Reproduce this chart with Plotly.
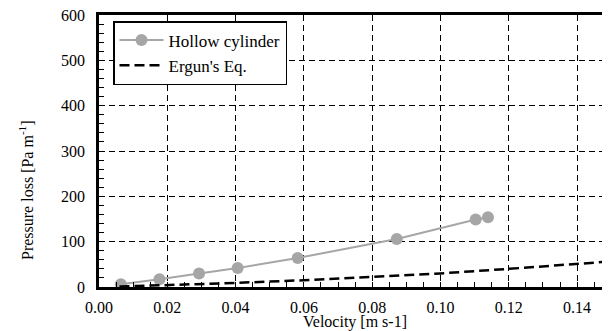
import plotly.graph_objects as go

# Hollow cylinder measurements
hc_velocity = [0.0064, 0.0177, 0.0293, 0.0406, 0.0582, 0.0872, 0.1103, 0.1139]
hc_pressure = [6, 17, 30, 42, 64, 106, 149, 154]

# Ergun's equation curve
ergun_velocity = [0.006, 0.02, 0.04, 0.06, 0.08, 0.10, 0.12, 0.14, 0.16]
ergun_pressure = [1, 4, 9, 15, 22, 30, 40, 51, 62]

x_ticks = [0.00, 0.02, 0.04, 0.06, 0.08, 0.10, 0.12, 0.14]
x_tick_labels = ["0.00", "0.02", "0.04", "0.06", "0.08", "0.10", "0.12", "0.14"]
y_ticks = [0, 100, 200, 300, 400, 500, 600]

FONT = '"Liberation Serif", "Times New Roman", Times, serif'

# page body has an 8px default margin; compensate so plot sits where reference is
OFF = 8
W, H = 610 - OFF, 331 - OFF
L, T, B = 99 - OFF, 15 - OFF, 331 - 287
plot_w = W - L
plot_h = H - T - B

fig = go.Figure()
fig.add_trace(go.Scatter(
    x=hc_velocity, y=hc_pressure, mode="lines+markers", name="Hollow cylinder",
    line=dict(color="#A6A6A6", width=2),
    marker=dict(color="#A6A6A6", size=12),
))
fig.add_trace(go.Scatter(
    x=ergun_velocity, y=ergun_pressure, mode="lines", name="Ergun's Eq.",
    line=dict(color="black", width=2.5, dash="10px,5px"),
))

fig.update_layout(
    width=W, height=H,
    margin=dict(l=L, r=0, t=T, b=B, autoexpand=False),
    paper_bgcolor="white", plot_bgcolor="white",
    font=dict(family=FONT, size=15, color="black"),
    showlegend=True,
    legend=dict(
        x=(113 - 99) / plot_w, y=(287 - 21) / plot_h, xanchor="left", yanchor="top",
        bordercolor="black", borderwidth=1.5, bgcolor="white",
        font=dict(family=FONT, size=17, color="black"),
        tracegroupgap=0, itemwidth=44,
    ),
)
fig.update_xaxes(
    range=[0, 0.02 * (610 - 99) / 68.3],
    tickvals=x_ticks, ticktext=x_tick_labels,
    showgrid=True, gridcolor="black", gridwidth=1.2, griddash="6px,4px",
    showline=True, linecolor="black", linewidth=2.5, mirror=True,
    ticks="inside", ticklen=5, tickcolor="black",
    minor=dict(dtick=0.005, ticks="inside", ticklen=5, tickcolor="black", showgrid=False),
    zeroline=False, ticklabelstandoff=4, ticklabeloverflow="allow",
    tickfont=dict(family=FONT, size=16),
)
fig.update_yaxes(
    range=[0, 600],
    tickvals=y_ticks,
    showgrid=True, gridcolor="black", gridwidth=1.2, griddash="6px,4px",
    showline=True, linecolor="black", linewidth=2.5, mirror=False,
    ticks="inside", ticklen=5, tickcolor="black",
    minor=dict(dtick=20, ticks="inside", ticklen=5, tickcolor="black", showgrid=False),
    zeroline=False, ticklabelstandoff=8, ticklabeloverflow="allow",
    tickfont=dict(family=FONT, size=16),
)

fig.add_annotation(
    text="Velocity [m s-1]", xref="paper", yref="paper",
    x=(355 - 99) / plot_w, y=-(322 - 287) / plot_h, xanchor="center", yanchor="middle",
    showarrow=False, font=dict(family=FONT, size=16),
)
fig.add_annotation(
    text="Pressure loss [Pa m<sup>-1</sup>]", xref="paper", yref="paper",
    x=-(99 - 26) / plot_w, y=(287 - 190) / plot_h, xanchor="center", yanchor="middle",
    textangle=-90, showarrow=False, font=dict(family=FONT, size=16),
)

fig.write_html("out.html")
